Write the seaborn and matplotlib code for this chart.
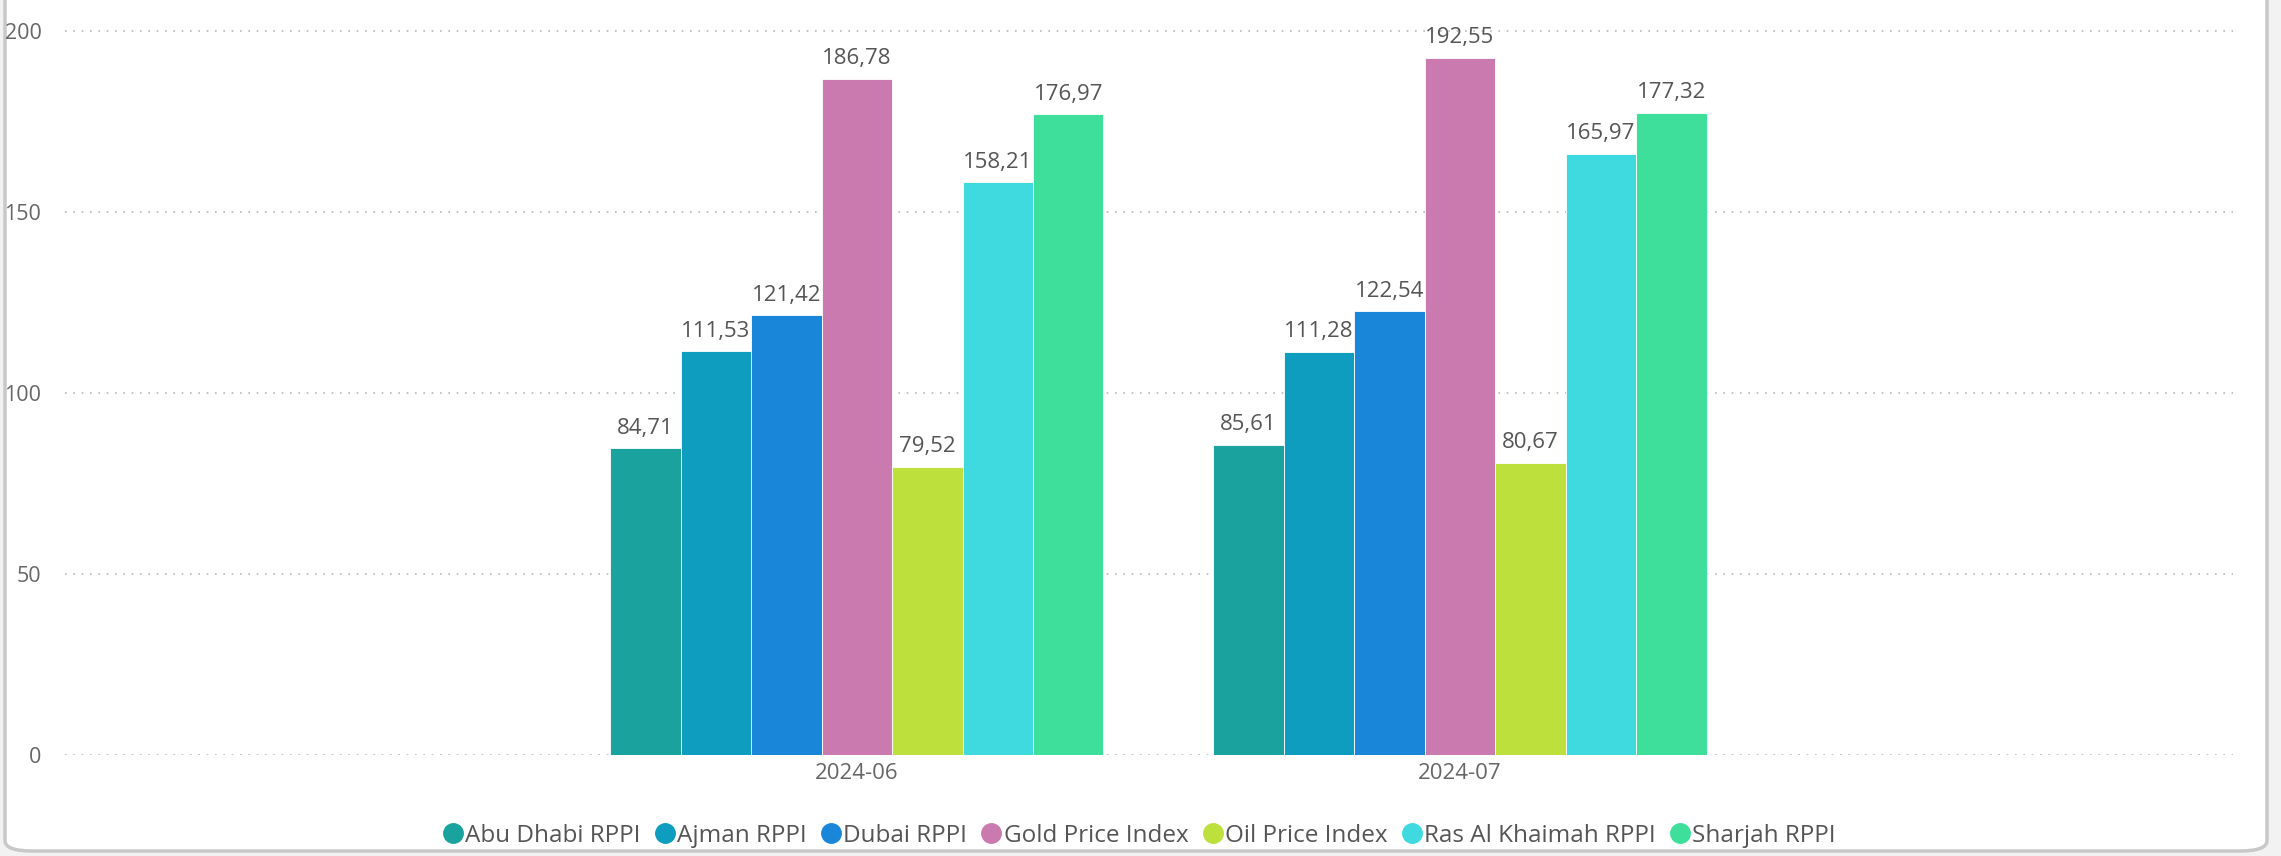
import seaborn as sns
import matplotlib.pyplot as plt
import pandas as pd
from matplotlib.patches import FancyBboxPatch
from matplotlib.lines import Line2D

# values
months = ['2024-06', '2024-07']
series = ['Abu Dhabi RPPI', 'Ajman RPPI', 'Dubai RPPI', 'Gold Price Index',
          'Oil Price Index', 'Ras Al Khaimah RPPI', 'Sharjah RPPI']
jun_values = [84.71, 111.53, 121.42, 186.78, 79.52, 158.21, 176.97]
jul_values = [85.61, 111.28, 122.54, 192.55, 80.67, 165.97, 177.32]
colors = ['#1aa39e', '#0f9dbf', '#1a86da', '#cb7ab0', '#bee03c', '#3fd9e0', '#3edf9a']

rows = []
for s, a, b in zip(series, jun_values, jul_values):
    rows.append({'month': months[0], 'series': s, 'value': a})
    rows.append({'month': months[1], 'series': s, 'value': b})
df = pd.DataFrame(rows)

sns.set_style('white')
plt.rcParams['font.family'] = ['Open Sans', 'DejaVu Sans']

fig = plt.figure(figsize=(22.81, 8.56), dpi=100)
fig.patch.set_facecolor('#f2f2f2')
# card background with rounded border
card = FancyBboxPatch((5 / 2281, 5 / 856), 2262 / 2281, 1.05, transform=fig.transFigure,
                      boxstyle='round,pad=0,rounding_size=0.012', facecolor='white',
                      edgecolor='#c8c8c8', linewidth=2.5, zorder=-10)
fig.patches.append(card)

ax = fig.add_axes([65 / 2281, 1 - 755 / 856, (2233 - 65) / 2281, (755 - 10) / 856])
ax.set_facecolor('none')
ax.set_zorder(1)

sns.barplot(data=df, x='month', y='value', hue='series', hue_order=series, order=months,
            palette=colors, saturation=1, width=0.818, ax=ax, edgecolor='white',
            linewidth=0.6, legend=False, zorder=3)

ax.set_xlim(-1.313, 2.282)
ax.set_ylim(0, 205.8)
ax.set_yticks([0, 50, 100, 150, 200])
ax.yaxis.grid(True, linestyle=(0, (1, 4)), color='#b8b8b8', linewidth=1.2, zorder=0)
ax.set_axisbelow(True)
for sp in ax.spines.values():
    sp.set_visible(False)
ax.tick_params(axis='y', length=0, pad=17, labelsize=15.5, labelcolor='#666666')
ax.tick_params(axis='x', length=0, pad=6, labelsize=16, labelcolor='#666666')
ax.set_xlabel('')
ax.set_ylabel('')

for cont in ax.containers:
    labels = [f'{v:.2f}'.replace('.', ',') for v in cont.datavalues]
    ax.bar_label(cont, labels=labels, padding=7, fontsize=16, color='#555555')

handles = [Line2D([], [], marker='o', linestyle='', markersize=14, markerfacecolor=c,
                  markeredgecolor=c) for c in colors]
fig.legend(handles, series, loc='center', bbox_to_anchor=(1137 / 2281, 1 - 836 / 856),
           ncol=7, frameon=False, fontsize=17.5, handletextpad=-0.1, columnspacing=0.4,
           labelcolor='#555555', handlelength=1.2)

fig.savefig('out.png', dpi=100, facecolor=fig.get_facecolor())
